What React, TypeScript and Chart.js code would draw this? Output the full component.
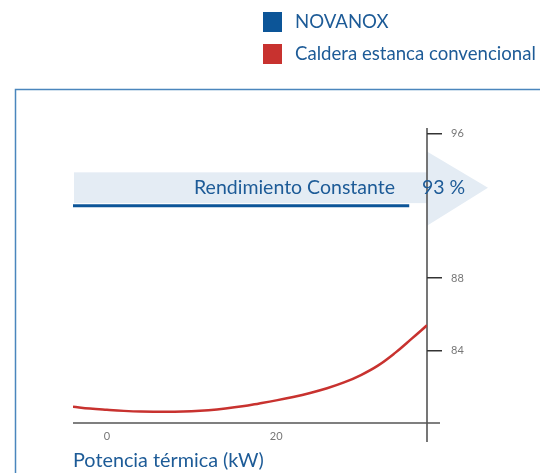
import React, { useEffect, useRef } from "react";
import { Chart, registerables } from "chart.js";

Chart.register(...registerables);

// ---- data ----
const curveX = [-4, -2, 0, 2, 4, 6, 8, 10, 12, 14, 16, 18, 20, 22, 24, 26, 28, 30, 32, 34, 36, 37.8];
const curveY = [80.9, 80.8, 80.73, 80.67, 80.63, 80.62, 80.62, 80.65, 80.71, 80.8, 80.92, 81.08, 81.25, 81.44, 81.66, 81.92, 82.24, 82.65, 83.17, 83.86, 84.66, 85.4];
const novanoxX = [-4, 35.7];
const novanoxY = [92, 92];
const xTicks = [0, 20];
const yTicks = [84, 88, 96];
const seriesNames = ["NOVANOX", "Caldera estanca convencional"];
const seriesColors = ["#0c5598", "#c8322f"];
const bandRange = [92.15, 93.85];
const arrowRange = [90.9, 95.0];
const arrowTipX = [45];
const arrowMidY = [93];
const constantLabel = "Rendimiento Constante";
const constantValue = "93 %";
const xTitle = "Potencia térmica (kW)";

const FONT = "Lato";
const TEXT_BLUE = "#1d5b97";

const decor = {
  id: "decor",
  beforeDraw(chart: any) {
    const { ctx, chartArea } = chart;
    const xs = chart.scales.x;
    const ys = chart.scales.y;
    ctx.save();
    // frame
    ctx.strokeStyle = "#4a86bd";
    ctx.lineWidth = 1.5;
    ctx.beginPath();
    ctx.moveTo(15.5, chart.height + 2);
    ctx.lineTo(15.5, 89.5);
    ctx.lineTo(chart.width + 2, 89.5);
    ctx.stroke();
    // band
    ctx.fillStyle = "#e4ecf4";
    const yb0 = ys.getPixelForValue(bandRange[1]);
    const yb1 = ys.getPixelForValue(bandRange[0]);
    ctx.fillRect(chartArea.left + 1, yb0, chartArea.right - chartArea.left - 1, yb1 - yb0);
    ctx.beginPath();
    ctx.moveTo(chartArea.right, ys.getPixelForValue(arrowRange[1]));
    ctx.lineTo(xs.getPixelForValue(arrowTipX[0]), ys.getPixelForValue(arrowMidY[0]));
    ctx.lineTo(chartArea.right, ys.getPixelForValue(arrowRange[0]));
    ctx.closePath();
    ctx.fill();
    // axes
    ctx.strokeStyle = "#555";
    ctx.lineWidth = 1.6;
    ctx.beginPath();
    ctx.moveTo(chartArea.right, chartArea.top);
    ctx.lineTo(chartArea.right, chartArea.bottom + 19);
    ctx.moveTo(chartArea.left, chartArea.bottom);
    ctx.lineTo(chartArea.right + 13, chartArea.bottom);
    ctx.stroke();
    ctx.restore();
  },
  afterDraw(chart: any) {
    const { ctx, chartArea } = chart;
    const ys = chart.scales.y;
    ctx.save();
    const ym = ys.getPixelForValue(arrowMidY[0]);
    ctx.fillStyle = TEXT_BLUE;
    ctx.font = `19.5px ${FONT}`;
    ctx.textBaseline = "middle";
    ctx.textAlign = "right";
    ctx.fillText(constantLabel, chartArea.right - 32, ym);
    ctx.textAlign = "left";
    ctx.fillText(constantValue, chartArea.right - 5, ym);
    // x title
    ctx.font = `19.8px ${FONT}`;
    ctx.fillText(xTitle, chartArea.left, 461);
    // legend
    ctx.font = `18.6px ${FONT}`;
    seriesNames.forEach((name, i) => {
      const top = 12 + i * 32;
      ctx.fillStyle = seriesColors[i];
      ctx.fillRect(263, top, 19, 20);
      ctx.fillStyle = TEXT_BLUE;
      ctx.fillText(name, 295, top + 10);
    });
    ctx.restore();
  },
};

export default function App() {
  const ref = useRef<HTMLCanvasElement>(null);
  useEffect(() => {
    document.body.style.margin = "0";
    const chart = new Chart(ref.current!, {
      type: "line",
      data: {
        datasets: [
          {
            label: seriesNames[0],
            data: novanoxX.map((x, i) => ({ x, y: novanoxY[i] })),
            borderColor: seriesColors[0],
            borderWidth: 3,
            tension: 0,
            pointRadius: 0,
          },
          {
            label: seriesNames[1],
            data: curveX.map((x, i) => ({ x, y: curveY[i] })),
            borderColor: seriesColors[1],
            borderWidth: 2.5,
            tension: 0.4,
            pointRadius: 0,
          },
        ],
      },
      options: {
        animation: false,
        responsive: false,
        devicePixelRatio: 1,
        layout: { padding: { left: 73, top: 128, right: 0, bottom: 0 } },
        plugins: { legend: { display: false }, tooltip: { enabled: false } },
        scales: {
          x: {
            type: "linear",
            min: -4,
            max: 37.8,
            afterBuildTicks: (s: any) => {
              s.ticks = xTicks.map((v) => ({ value: v }));
            },
            afterFit: (s: any) => {
              s.height = 50;
            },
            grid: { display: false, drawTicks: false },
            border: { display: false },
            ticks: { padding: 7, color: "#777", font: { family: FONT, size: 11 }, maxRotation: 0, autoSkip: false },
          },
          y: {
            position: "right",
            min: 80,
            max: 96.3,
            afterBuildTicks: (s: any) => {
              s.ticks = yTicks.map((v) => ({ value: v }));
            },
            afterFit: (s: any) => {
              s.width = 113;
            },
            grid: { drawOnChartArea: false, drawTicks: true, tickLength: 15, color: "#333", lineWidth: 1.5 },
            border: { display: false },
            ticks: { padding: 9, color: "#777", font: { family: FONT, size: 11 }, autoSkip: false },
          },
        },
      },
      plugins: [decor],
    } as any);
    return () => chart.destroy();
  }, []);
  return (
    <div style={{ width: 540, height: 473 }}>
      <canvas ref={ref} width={540} height={473} />
    </div>
  );
}
